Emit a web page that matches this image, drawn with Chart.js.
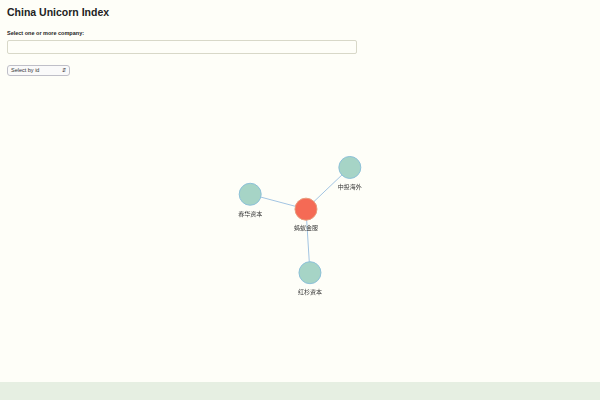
<!DOCTYPE html>
<html>
<head>
<meta charset="utf-8">
<script src="https://cdn.jsdelivr.net/npm/chart.js@4.4.0/dist/chart.umd.min.js"></script>
<style>
  html, body { margin: 0; padding: 0; width: 600px; height: 400px; overflow: hidden; background: #fefef8; font-family: "Liberation Sans", Arial, sans-serif; }
  h1 { position: absolute; left: 7px; top: 6px; margin: 0; font-size: 10.5px; font-weight: bold; color: #222; }
  .lbl { position: absolute; left: 7px; top: 30px; font-size: 5.5px; font-weight: bold; color: #222; }
  .inp { position: absolute; left: 7px; top: 40px; width: 350px; height: 14px; border: 1px solid #d8d8c8; border-radius: 2px; background: #fefef8; box-sizing: border-box; }
  .sel { position: absolute; left: 7px; top: 65px; width: 63px; height: 11px; border: 1px solid #bfbfc8; border-radius: 3px; box-sizing: border-box; font-size: 5.5px; color: #333; padding-left: 3px; line-height: 9px; background: #fafafa; }
  .sel span { position: absolute; right: 3px; top: 0; font-size: 5px; }
  #wrap { position: absolute; left: 0; top: 80px; width: 600px; height: 300px; }
  #c { display: block; width: 600px; height: 300px; }
  .foot { position: absolute; left: 0; top: 382px; width: 600px; height: 18px; background: #e6efe2; }
</style>
</head>
<body>
<h1>China Unicorn Index</h1>
<div class="lbl">Select one or more company:</div>
<div class="inp"></div>
<div class="sel">Select by id<span>&#8693;</span></div>
<div id="wrap"><canvas id="c" width="600" height="300"></canvas></div>
<div class="foot"></div>
<script>
// Node names and layout positions (page pixel coordinates)
const nodeNames = ["蚂蚁金服", "春华资本", "中投海外", "红杉资本"];
const nodeX = [306, 250, 350, 310];
const nodeY = [209, 194, 167, 273];
const nodeIsFocus = [true, false, false, false];
// Edges: [source index, target index]
const edgeFrom = [0, 0, 0];
const edgeTo = [1, 2, 3];

const OFFSET_Y = 80;
const INSET = 11;
const nodeData = nodeNames.map((n, i) => ({ x: nodeX[i], y: nodeY[i] - OFFSET_Y, name: n }));

const edgeSets = edgeFrom.map((f, k) => ({
  type: 'line',
  data: [{ x: nodeX[f], y: nodeY[f] - OFFSET_Y }, { x: nodeX[edgeTo[k]], y: nodeY[edgeTo[k]] - OFFSET_Y }],
  borderColor: '#a2c4e2',
  borderWidth: 1,
  pointRadius: 0,
  showLine: true,
  order: 2
}));

const labelPlugin = {
  id: 'nodeLabels',
  afterDatasetsDraw(chart) {
    const ctx = chart.ctx;
    const meta = chart.getDatasetMeta(chart.data.datasets.length - 1);
    ctx.save();
    ctx.font = '6px "Noto Sans CJK SC", sans-serif';
    ctx.fillStyle = '#333';
    ctx.textAlign = 'center';
    ctx.textBaseline = 'middle';
    meta.data.forEach((pt, i) => {
      ctx.fillText(nodeNames[i], pt.x, pt.y + 19);
    });
    ctx.restore();
  }
};

new Chart(document.getElementById('c'), {
  type: 'scatter',
  data: {
    datasets: [...edgeSets, {
      type: 'scatter',
      data: nodeData,
      pointRadius: 11,
      pointHoverRadius: 11,
      backgroundColor: nodeIsFocus.map(f => f ? '#f56a55' : '#a6d4c6'),
      borderColor: nodeIsFocus.map(f => f ? '#e89a7a' : '#8cc0d8'),
      borderWidth: 1,
      order: 1
    }]
  },
  options: {
    responsive: false,
    animation: false,
    maintainAspectRatio: false,
    layout: { padding: 0 },
    plugins: { legend: { display: false }, tooltip: { enabled: false } },
    scales: {
      x: { type: 'linear', min: INSET, max: 600 - INSET, display: false },
      y: { type: 'linear', min: INSET, max: 300 - INSET, reverse: true, display: false }
    }
  },
  plugins: [labelPlugin]
});
</script>
</body>
</html>
